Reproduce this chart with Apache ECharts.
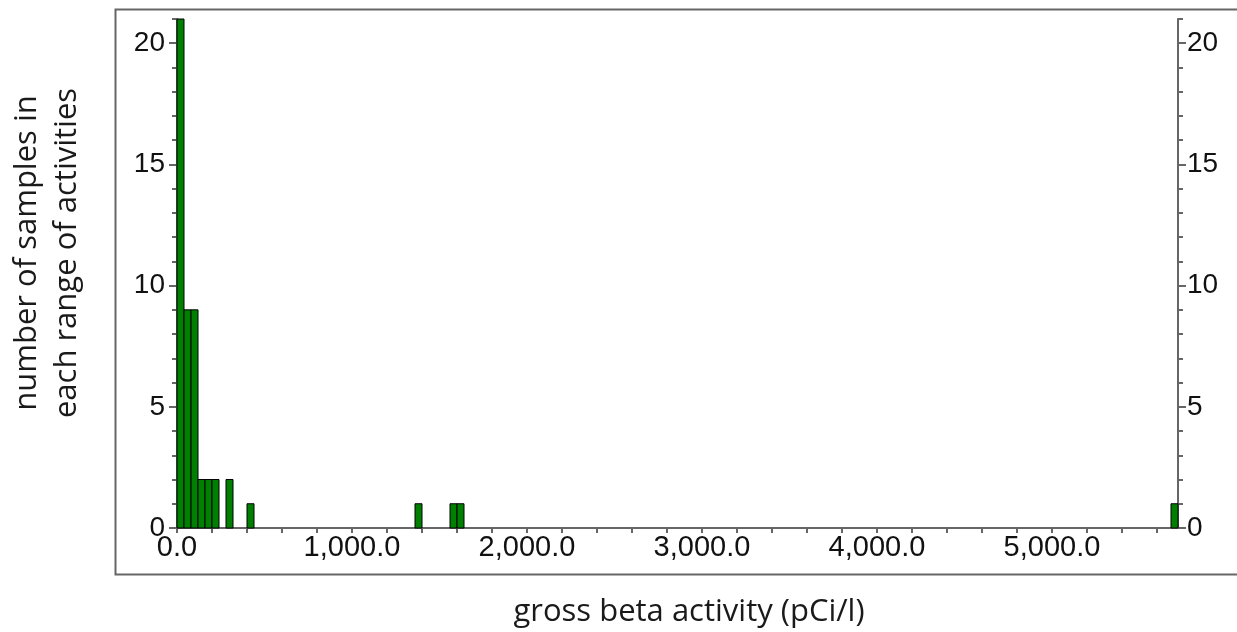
<!DOCTYPE html>
<html>
<head>
<meta charset="utf-8">
<script src="https://cdn.jsdelivr.net/npm/echarts@6/dist/echarts.min.js"></script>
<style>html,body{margin:0;padding:0;background:#fff}#c{width:1237px;height:632px}</style>
</head>
<body>
<div id="c"></div>
<script>
// Histogram bins (pCi/l): start of each occupied bin, bin width, and counts
var binWidth = 40;
var binStarts = [0, 40, 80, 120, 160, 200, 280, 400, 1360, 1560, 1600, 5680];
var counts    = [21, 9, 9, 2, 2, 2, 2, 1, 1, 1, 1, 1];
var xMin = 0, xMax = 5720, xTickStep = 200, xLabelStep = 1000;
var yMin = 0, yMax = 21, yMajor = [0, 5, 10, 15, 20];
var xTitle = 'gross beta activity (pCi/l)';
var yTitle1 = 'number of samples in';
var yTitle2 = 'each range of activities';

var data = binStarts.map(function (s, i) { return [s, s + binWidth, counts[i]]; });

var chart = echarts.init(document.getElementById('c'), null, {renderer: 'canvas'});
var axisColor = '#666';
var labelFont = {fontFamily: 'Liberation Sans', fontSize: 28, color: '#111'};

function fmtX(v) {
  if (v % xLabelStep !== 0) return '';
  return v.toLocaleString('en-US', {minimumFractionDigits: 1, maximumFractionDigits: 1});
}

function yAxisDef(pos, withLabels, majorOnly) {
  return {
    type: 'value', position: pos, min: yMin, max: yMax, interval: 1,
    axisLine: {show: !majorOnly, lineStyle: {color: axisColor, width: 2}},
    axisTick: majorOnly
      ? {show: true, length: 8, customValues: yMajor, lineStyle: {color: axisColor, width: 2}}
      : {show: true, length: 5, lineStyle: {color: axisColor, width: 2}},
    axisLabel: withLabels
      ? Object.assign({show: true, customValues: yMajor, margin: pos === 'left' ? 12 : 9}, labelFont)
      : {show: false},
    splitLine: {show: false}
  };
}

chart.setOption({
  animation: false,
  grid: {left: 177, right: 59, top: 19, bottom: 104, containLabel: false},
  xAxis: {
    type: 'value', min: xMin, max: xMax, interval: xTickStep,
    axisLine: {show: true, onZero: false, lineStyle: {color: axisColor, width: 2}},
    axisTick: {show: true, length: 5, lineStyle: {color: axisColor, width: 2}},
    axisLabel: {show: true, margin: 5, formatter: fmtX, fontSize: 29, showMaxLabel: false, fontFamily: 'Liberation Sans', color: '#111'},
    splitLine: {show: false}
  },
  yAxis: [
    yAxisDef('left', true, false),
    yAxisDef('left', false, true),
    yAxisDef('right', true, false),
    yAxisDef('right', false, true)
  ],
  series: [{
    type: 'custom',
    xAxisIndex: 0, yAxisIndex: 0,
    data: data,
    renderItem: function (params, api) {
      var p0 = api.coord([api.value(0), 0]);
      var p1 = api.coord([api.value(1), api.value(2)]);
      return {
        type: 'rect',
        shape: {x: p0[0], y: p1[1], width: p1[0] - p0[0], height: p0[1] - p1[1]},
        style: {fill: '#008000', stroke: '#000', lineWidth: 1}
      };
    }
  }],
  graphic: [
    {type: 'rect', left: 113, top: 7, z: -10, silent: true,
     shape: {x: 0, y: 0, width: 1200, height: 565},
     style: {fill: 'none', stroke: '#666', lineWidth: 2}},
    {type: 'text', x: 689, y: 612, silent: true,
     style: {text: xTitle, fontFamily: 'Open Sans', fontSize: 31, fill: '#1a1a1a', align: 'center', verticalAlign: 'middle'}},
    {type: 'text', x: 27, y: 253, rotation: Math.PI / 2, silent: true,
     style: {text: yTitle1, fontFamily: 'Open Sans', fontSize: 31, fill: '#1a1a1a', align: 'center', verticalAlign: 'middle'}},
    {type: 'text', x: 67, y: 253, rotation: Math.PI / 2, silent: true,
     style: {text: yTitle2, fontFamily: 'Open Sans', fontSize: 31, fill: '#1a1a1a', align: 'center', verticalAlign: 'middle'}}
  ]
});
</script>
</body>
</html>
